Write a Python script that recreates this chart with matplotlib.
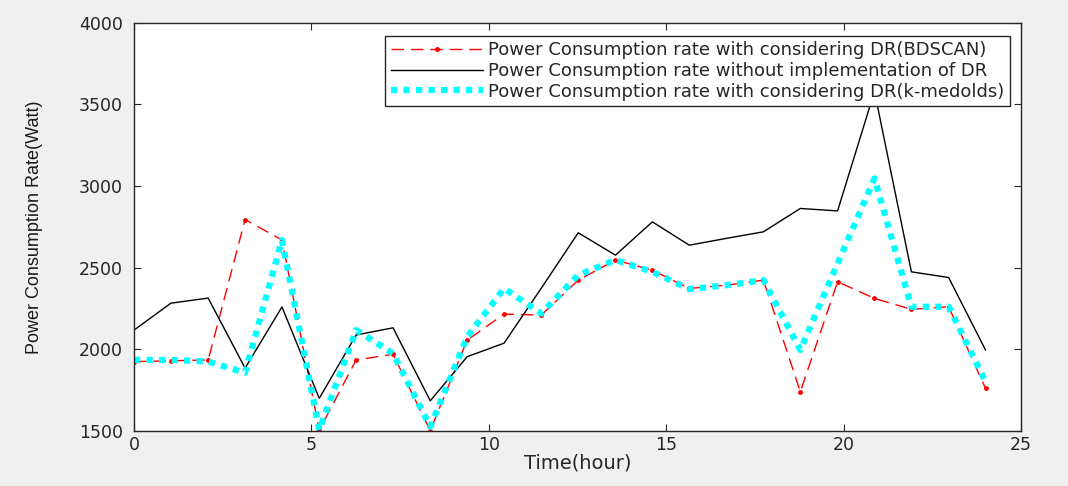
import numpy as np
import matplotlib
matplotlib.use("Agg")
import matplotlib.pyplot as plt

plt.rcParams['font.family'] = ['DejaVu Sans']

# hours (24 samples over 0..24)
hours = [0, 1.04, 2.09, 3.13, 4.17, 5.22, 6.26, 7.30, 8.35, 9.39, 10.43, 11.48,
         12.52, 13.57, 14.61, 15.65, 16.70, 17.74, 18.78, 19.83, 20.87, 21.91, 22.96, 24.0]

# DR with BDSCAN
p_bdscan = [1925, 1930, 1935, 2795, 2670, 1505, 1935, 1970, 1502, 2057, 2216, 2210,
            2424, 2547, 2485, 2373, 2393, 2424, 1740, 2414, 2312, 2245, 2261, 1761]
# without DR
p_nodr = [2118, 2283, 2314, 1885, 2260, 1700, 2088, 2132, 1685, 1955, 2038, 2375,
          2714, 2577, 2781, 2638, 2680, 2720, 2863, 2848, 3580, 2475, 2440, 1996]
# DR with k-medoids
p_kmed = [1935, 1935, 1925, 1857, 2669, 1506, 2118, 1975, 1526, 2077, 2373, 2220,
          2455, 2547, 2475, 2369, 2393, 2424, 1996, 2526, 3047, 2261, 2261, 1802]

txt = '#262626'

fig = plt.figure(figsize=(10.68, 4.86), dpi=100, facecolor='#f0f0f0')
ax = fig.add_axes([0.1255, 0.1132, 0.8305, 0.8398])

ax.plot(hours, p_bdscan, color='red', ls='--', dashes=(9, 5), lw=1.0,
        marker='.', ms=5, label='Power Consumption rate with considering DR(BDSCAN)')
ax.plot(hours, p_nodr, color='black', lw=1.0,
        label='Power Consumption rate without implementation of DR')
ax.plot(hours, p_kmed, color='cyan', ls=(0, (1, 1)), lw=4.5,
        label='Power Consumption rate with considering DR(k-medolds)')

ax.set_xlim(0, 25)
ax.set_ylim(1500, 4000)
ax.set_xticks(np.arange(0, 26, 5))
ax.set_yticks(np.arange(1500, 4001, 500))
ax.tick_params(direction='in', top=True, right=True, labelsize=12.5, length=5,
               labelcolor=txt, color=txt)
ax.tick_params(axis='y', pad=8)
for s in ax.spines.values():
    s.set_linewidth(1.0)
    s.set_color(txt)

ax.set_xlabel('Time(hour)', fontsize=14, labelpad=0, color=txt)
ax.set_ylabel('Power Consumption Rate(Watt)', fontsize=13, color='#1a1a1a', labelpad=26,
              family='Liberation Sans')

leg = ax.legend(loc='upper right', bbox_to_anchor=(0.9876, 0.968), fontsize=13,
                handlelength=5.1, handletextpad=0.3, labelspacing=0.15,
                borderaxespad=0, fancybox=False, framealpha=1, edgecolor=txt,
                borderpad=0.3)
leg.get_frame().set_linewidth(1.0)
for t in leg.get_texts():
    t.set_color(txt)

fig.savefig('out.png', dpi=100, facecolor=fig.get_facecolor())
